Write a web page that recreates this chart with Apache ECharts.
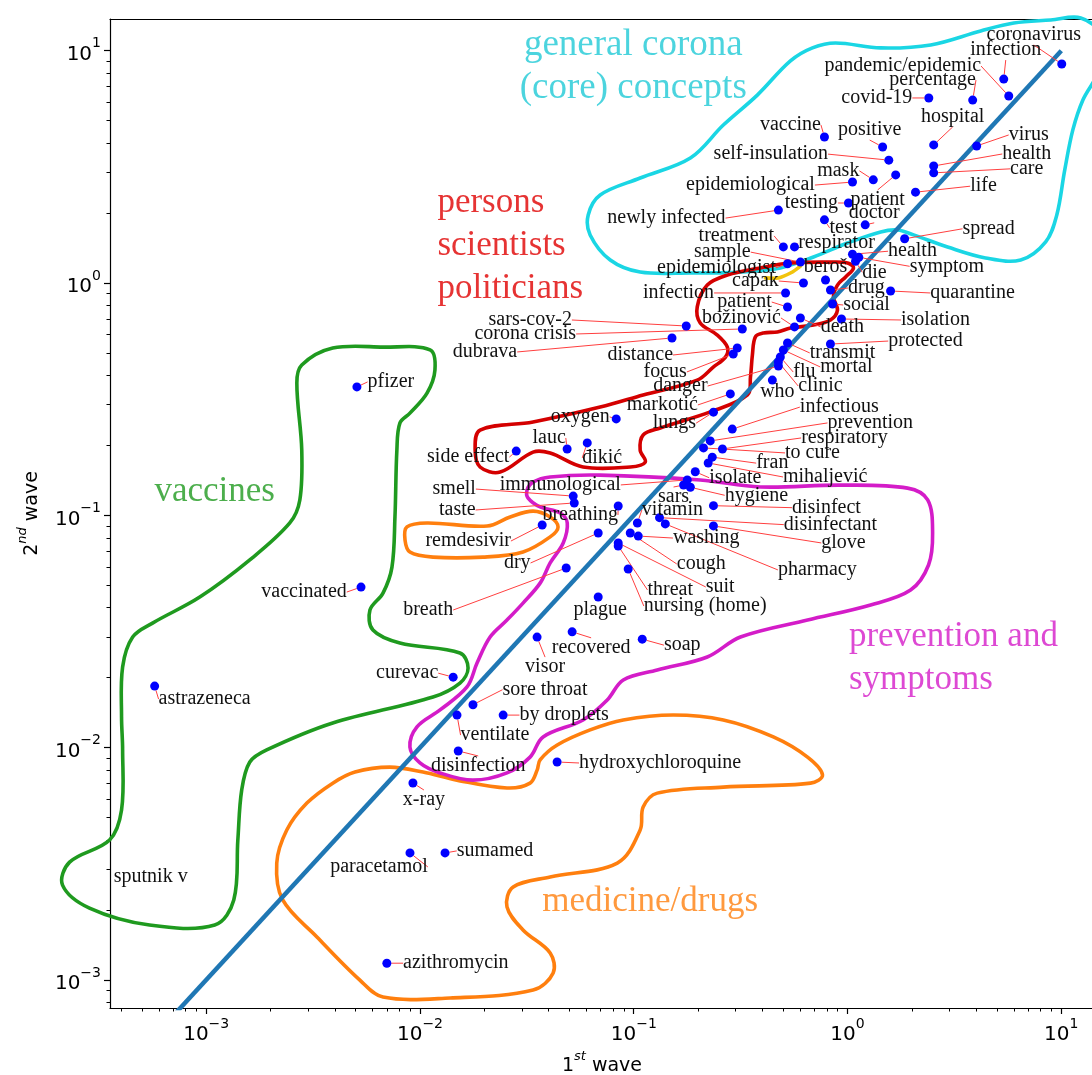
<!DOCTYPE html>
<html>
<head>
<meta charset="utf-8">
<script src="https://cdn.jsdelivr.net/npm/echarts@6/dist/echarts.min.js"></script>
<style>
  html, body { margin: 0; padding: 0; background: #fff; }
  #chart { width: 1092px; height: 1075px; }
</style>
</head>
<body>
<div id="chart"></div>
<script>
// Term frequencies (share of mentions, %) in the 1st and 2nd wave of coverage.
const terms = [
  'coronavirus', 'infection', 'pandemic/epidemic', 'percentage', 'covid-19', 'hospital', 'virus',
  'health', 'care', 'life', 'patient', 'positive', 'self-insulation', 'vaccine', 'mask',
  'epidemiological', 'testing', 'newly infected', 'test', 'doctor', 'spread', 'treatment',
  'respirator', 'sample', 'epidemiologist', 'health', 'symptom', 'die', 'beroš', 'capak',
  'drug', 'quarantine', 'infection', 'social', 'patient', 'isolation', 'božinović', 'death',
  'protected', 'transmit', 'mortal', 'flu', 'clinic', 'who', 'sars-cov-2', 'corona crisis',
  'dubrava', 'distance', 'focus', 'danger', 'markotić', 'lungs', 'oxygen', 'lauc', 'đikić',
  'side effect', 'infectious', 'prevention', 'respiratory', 'to cure', 'fran', 'mihaljević',
  'isolate', 'immunological', 'hygiene', 'sars', 'disinfect', 'disinfectant', 'glove',
  'vitamin', 'pharmacy', 'washing', 'cough', 'suit', 'threat', 'nursing (home)', 'dry',
  'plague', 'breath', 'breathing', 'remdesivir', 'smell', 'taste', 'soap', 'recovered',
  'visor', 'curevac', 'sore throat', 'by droplets', 'ventilate', 'disinfection',
  'hydroxychloroquine', 'x-ray', 'paracetamol', 'sumamed', 'azithromycin', 'pfizer',
  'vaccinated', 'astrazeneca', 'sputnik v'
];
const firstWave = [
  10.05, 5.38, 5.68, 3.85, 2.40, 2.53, 4.02,
  2.53, 2.53, 2.08, 1.68, 1.46, 1.56, 0.78, 1.32,
  1.055, 1.01, 0.475, 0.78, 1.21, 1.85, 0.501,
  0.565, 0.602, 0.524, 1.055, 1.13, 1.09, 0.789, 0.622,
  0.832, 1.59, 0.513, 0.851, 0.524, 0.937, 0.565, 0.602,
  0.832, 0.524, 0.501, 0.485, 0.475, 0.445, 0.176, 0.322,
  0.151, 0.305, 0.292, 0.475, 0.283, 0.236, 0.0828, 0.0488, 0.0606,
  0.0282, 0.289, 0.228, 0.260, 0.212, 0.233, 0.223,
  0.194, 0.178, 0.184, 0.171, 0.236, 0.132, 0.236,
  0.104, 0.1405, 0.105, 0.0963, 0.0846, 0.0846, 0.0942, 0.0682,
  0.0682, 0.0483, 0.0846, 0.0373, 0.0521, 0.0527, 0.1096, 0.0515,
  0.0353, 0.0143, 0.0177, 0.0245, 0.0149, 0.0151,
  0.0438, 0.00927, 0.00898, 0.0131, 0.0070, 0.00507,
  0.0053, 0.000574, 0.00055
];
const secondWave = [
  8.77, 7.55, 6.38, 6.13, 6.26, 3.93, 3.89,
  3.19, 2.98, 2.46, 2.92, 3.85, 3.38, 4.25, 2.78,
  2.72, 2.21, 2.06, 1.87, 1.78, 1.55, 1.43,
  1.43, 1.23, 1.21, 1.33, 1.29, 1.24, 1.03, 1.00,
  0.933, 0.924, 0.906, 0.812, 0.788, 0.700, 0.647, 0.707,
  0.546, 0.552, 0.515, 0.480, 0.457, 0.382, 0.653, 0.634,
  0.580, 0.525, 0.495, 0.439, 0.333, 0.278, 0.260, 0.193, 0.205,
  0.189, 0.235, 0.209, 0.193, 0.195, 0.178, 0.168,
  0.154, 0.142, 0.132, 0.135, 0.110, 0.0977, 0.0900,
  0.0926, 0.0918, 0.0814, 0.0839, 0.0760, 0.0738, 0.0587, 0.0839,
  0.0445, 0.0593, 0.1097, 0.0908, 0.121, 0.113, 0.0293, 0.0315,
  0.0299, 0.0201, 0.0153, 0.0138, 0.0138, 0.00967,
  0.00867, 0.00704, 0.00352, 0.00352, 0.00118, 0.357,
  0.0491, 0.0184, 0.00277
];
// Terms whose point is not drawn (label only).
const labelOnly = ['sputnik v'];

// Where each word label sits relative to its point (screen px).
const labelShift = [
  [-28, -29], [2, -29], [-106, -30], [-40, -20], [-52, 0], [19, -28], [52, -11],
  [93, -12], [93, -4], [68, -6], [-18, 25], [-13, -17], [-118, -6], [-34, -12], [-35, -9],
  [-102, 3], [-37, 0], [-112, 8], [19, 8], [9, -12], [84, -10], [-47, -11],
  [42, -4], [-78, -10], [-71, 4], [60, -3], [88, 9], [19, 11], [0, -13], [-48, -2],
  [36, -2], [82, 2], [-107, 0], [34, 1], [-43, -5], [94, 1], [-53, -9], [42, 9],
  [95, -3], [55, 10], [63, 17], [24, 15], [42, 24], [5, 12], [-156, -6], [-217, 5],
  [-187, 14], [-97, 7], [-68, 18], [-98, 20], [-68, 11], [-39, 11], [-36, -2], [-18, -11], [15, 15],
  [-48, 6], [107, -22], [160, -18], [122, -11], [109, 5], [60, 6], [117, 14],
  [40, 6], [-127, 5], [66, 8], [-10, 12], [113, 2], [171, 7], [130, 17],
  [35, -13], [152, 46], [68, 2], [71, 31], [102, 44], [52, 44], [77, 37], [-81, 30],
  [2, 13], [-138, 42], [-38, 9], [-74, 16], [-119, -7], [-117, 7], [40, 6], [19, 16],
  [8, 30], [-46, -4], [72, -15], [61, 0], [38, 20], [20, 15],
  [103, 1], [11, 17], [-31, 14], [50, -2], [69, 0], [34, -5],
  [-57, 5], [50, 13], [0, 0]
];

// Hand-drawn group outlines, as [log10(1st wave), log10(2nd wave)] pairs.
const outlineCore = [
  [-1.213, 0.293], [-1.157, 0.379], [-0.970, 0.452], [-0.735, 0.538], [-0.581, 0.680],
  [-0.422, 0.809], [-0.267, 0.956], [-0.164, 1.012], [-0.056, 1.033], [0.155, 1.012],
  [0.389, 1.025], [0.623, 1.085], [0.778, 1.119], [0.951, 1.132], [1.091, 1.141],
  [1.185, 1.068], [1.176, 0.917], [1.101, 0.788], [1.054, 0.659], [1.016, 0.486],
  [0.979, 0.293], [0.927, 0.177], [0.810, 0.099], [0.646, 0.108], [0.468, 0.155],
  [0.309, 0.207], [0.234, 0.228], [0.155, 0.220], [0.000, 0.172], [-0.159, 0.112],
  [-0.314, 0.065], [-0.501, 0.047], [-0.735, 0.043], [-0.970, 0.047], [-1.110, 0.099],
  [-1.204, 0.207]
];
const outlinePersons = [
  [-1.719, -0.633], [-1.471, -0.598], [-1.157, -0.534], [-0.956, -0.482], [-0.703, -0.418],
  [-0.628, -0.362], [-0.571, -0.319], [-0.562, -0.276], [-0.609, -0.224], [-0.689, -0.172],
  [-0.703, -0.103], [-0.656, -0.009], [-0.562, 0.034], [-0.408, 0.065], [-0.267, 0.086],
  [-0.080, 0.090], [0.000, 0.086], [0.028, 0.065], [-0.009, 0.026], [-0.047, -0.009],
  [-0.066, -0.060], [-0.047, -0.116], [-0.080, -0.159], [-0.159, -0.181], [-0.267, -0.194],
  [-0.328, -0.211], [-0.393, -0.215], [-0.431, -0.232], [-0.445, -0.310], [-0.454, -0.405],
  [-0.468, -0.482], [-0.642, -0.555], [-0.876, -0.624], [-0.956, -0.654], [-0.970, -0.719],
  [-0.946, -0.771], [-1.016, -0.792], [-1.237, -0.792], [-1.391, -0.732], [-1.471, -0.728],
  [-1.625, -0.814], [-1.719, -0.792], [-1.742, -0.719]
];
const arcLeaders = [
  [-0.384, 0.022], [-0.323, 0.022], [-0.267, 0.043], [-0.220, 0.073]
];
const outlineVaccines = [
  [-2.553, -0.353], [-2.408, -0.280], [-2.173, -0.276], [-1.953, -0.288], [-1.930, -0.375],
  [-1.967, -0.474], [-2.047, -0.560], [-2.094, -0.603], [-2.108, -0.719], [-2.117, -1.007],
  [-2.131, -1.223], [-2.173, -1.335], [-2.234, -1.408], [-2.220, -1.494], [-2.094, -1.550],
  [-1.813, -1.593], [-1.775, -1.657], [-1.813, -1.722], [-1.939, -1.782], [-2.408, -1.894],
  [-2.717, -2.010], [-2.796, -2.062], [-2.834, -2.183], [-2.852, -2.398], [-2.871, -2.656],
  [-2.960, -2.764], [-3.265, -2.764], [-3.546, -2.691], [-3.672, -2.592], [-3.639, -2.493],
  [-3.452, -2.398], [-3.396, -2.269], [-3.391, -2.010], [-3.396, -1.868], [-3.391, -1.653],
  [-3.344, -1.524], [-3.251, -1.464], [-3.030, -1.352], [-2.796, -1.192], [-2.609, -1.033],
  [-2.562, -0.934], [-2.553, -0.719], [-2.576, -0.430]
];
const outlineRemdesivir = [
  [-2.061, -1.050], [-1.967, -1.033], [-1.686, -1.046], [-1.578, -1.007], [-1.471, -0.982],
  [-1.391, -1.007], [-1.354, -1.050], [-1.391, -1.093], [-1.518, -1.158], [-1.705, -1.180],
  [-1.939, -1.180], [-2.047, -1.158], [-2.070, -1.106]
];
const outlineMedicine = [
  [-2.141, -2.084], [-1.986, -2.105], [-1.827, -2.140], [-1.593, -2.174], [-1.485, -2.153],
  [-1.452, -2.097], [-1.438, -2.053], [-1.358, -1.989], [-1.204, -1.924], [-1.049, -1.881],
  [-0.815, -1.860], [-0.581, -1.881], [-0.347, -1.954], [-0.187, -2.041], [-0.117, -2.118],
  [-0.173, -2.153], [-0.581, -2.170], [-0.890, -2.196], [-0.956, -2.256], [-0.970, -2.355],
  [-1.077, -2.497], [-1.391, -2.557], [-1.564, -2.600], [-1.593, -2.686], [-1.518, -2.785],
  [-1.391, -2.884], [-1.377, -2.970], [-1.471, -3.044], [-1.859, -3.078], [-2.173, -3.074],
  [-2.281, -3.001], [-2.482, -2.815], [-2.642, -2.656], [-2.670, -2.497], [-2.623, -2.355],
  [-2.529, -2.239], [-2.408, -2.153], [-2.304, -2.105]
];
const outlinePrevention = [
  [-1.499, -0.891], [-1.471, -0.857], [-1.391, -0.835], [-1.157, -0.827], [-0.689, -0.848],
  [-0.408, -0.878], [-0.033, -0.870], [0.281, -0.883], [0.375, -0.934], [0.398, -1.076],
  [0.379, -1.214], [0.295, -1.322], [0.108, -1.386], [-0.187, -1.451], [-0.501, -1.524],
  [-0.656, -1.610], [-0.890, -1.666], [-1.049, -1.709], [-1.124, -1.795], [-1.237, -1.881],
  [-1.424, -1.954], [-1.485, -2.041], [-1.593, -2.109], [-1.752, -2.140], [-1.906, -2.109],
  [-2.000, -2.066], [-2.047, -1.998], [-2.014, -1.911], [-1.906, -1.838], [-1.780, -1.739],
  [-1.733, -1.636], [-1.672, -1.524], [-1.593, -1.451], [-1.518, -1.378], [-1.438, -1.292],
  [-1.391, -1.205], [-1.330, -1.119], [-1.311, -1.033], [-1.344, -0.990], [-1.438, -0.964],
  [-1.494, -0.926]
];

// Group names written next to their outlines: [text, 1st wave, 2nd wave, colour, anchor, size].
const groupTitles = [
  ['general corona\n(core) concepts', 0.0995, 8.5, '#1fc9d6', 'center', 37],
  ['persons\nscientists\npoliticians', 0.0120, 1.45, '#e00000', 'left', 35],
  ['vaccines', 0.001096, 0.126, '#1f9a1f', 'center', 35],
  ['prevention and\nsymptoms', 1.01, 0.0243, '#d41cc8', 'left', 35],
  ['medicine/drugs', 0.1194, 0.00216, '#ff7f0e', 'center', 35]
];

const majorTicks = [1e-3, 1e-2, 1e-1, 1, 10];
const minorTicks = [];
[1e-4, 1e-3, 1e-2, 1e-1, 1, 10].forEach(d => {
  for (let k = 2; k <= 9; k++) minorTicks.push(+(d * k).toPrecision(3));
});

const X_MIN = Math.pow(10, -3.45), X_MAX = Math.pow(10, 1.153);
const Y_MIN = Math.pow(10, -3.121), Y_MAX = Math.pow(10, 1.1365);

const serif = 'Liberation Serif';
const sans = 'DejaVu Sans';

function powLabel(v) {
  const e = Math.round(Math.log10(v));
  return '{b|10}{e|' + (e < 0 ? '\u2212' + (-e) : String(e)) + '}';
}
const powRich = {
  b: { fontFamily: sans, fontSize: 20, color: '#000', lineHeight: 28, verticalAlign: 'bottom' },
  e: { fontFamily: sans, fontSize: 14, color: '#000', lineHeight: 28, verticalAlign: 'top' }
};
const nameRich = {
  b: { fontFamily: sans, fontSize: 19, color: '#000', lineHeight: 26, verticalAlign: 'bottom' },
  e: { fontFamily: sans, fontSize: 13, color: '#000', fontStyle: 'italic', lineHeight: 26, verticalAlign: 'top' }
};

const toValues = pts => pts.map(([a, b]) => [Math.pow(10, a), Math.pow(10, b)]);

// Outlines are free-hand annotations, so they may run past the axes.
function outline(pts, color, isClosed) {
  const vals = toValues(pts);
  const closedShape = isClosed !== false;
  return {
    type: 'custom', coordinateSystem: 'cartesian2d', xAxisIndex: 0, yAxisIndex: 0,
    clip: false, silent: true, z: 2,
    data: [[1, 1]],
    renderItem: (params, api) => ({
      type: closedShape ? 'polygon' : 'polyline',
      shape: { points: vals.map(v => api.coord(v)), smooth: 0.35 },
      style: { stroke: color, lineWidth: 3.6, fill: 'rgba(0,0,0,0)', lineJoin: 'round', lineCap: 'round' }
    })
  };
}

const points = terms.map((t, i) => {
  const item = { name: t, value: [firstWave[i], secondWave[i]] };
  if (labelOnly.indexOf(t) >= 0) {
    item.symbolSize = 1;
    item.itemStyle = { color: 'rgba(0,0,0,0)' };
    item.labelLine = { show: false };
  }
  return item;
});

const chart = echarts.init(document.getElementById('chart'), null, { renderer: 'canvas' });

const option = {
  animation: false,
  backgroundColor: '#fff',
  grid: { left: 110, top: 19, right: -2, bottom: 67, containLabel: false, outerBoundsMode: 'none' },
  xAxis: [
    {
      type: 'log', logBase: 10, min: X_MIN, max: X_MAX, position: 'bottom',
      axisLine: { show: true, onZero: false, lineStyle: { color: '#000', width: 1.2 } },
      axisTick: { show: true, customValues: majorTicks, length: 6, lineStyle: { color: '#000', width: 1.2 } },
      axisLabel: { show: true, customValues: majorTicks, formatter: powLabel, rich: powRich, margin: 9 },
      splitLine: { show: false }, minorTick: { show: false },
      name: '{b|1}{e|st}{b| wave}', nameLocation: 'middle', nameGap: 39,
      nameTextStyle: { rich: nameRich }
    },
    {
      type: 'log', logBase: 10, min: X_MIN, max: X_MAX, position: 'bottom',
      axisLine: { show: false, onZero: false },
      axisTick: { show: true, customValues: minorTicks, length: 3.5, lineStyle: { color: '#000', width: 1 } },
      axisLabel: { show: false }, splitLine: { show: false }
    },
    {
      type: 'log', logBase: 10, min: X_MIN, max: X_MAX, position: 'top',
      axisLine: { show: true, onZero: false, lineStyle: { color: '#000', width: 1.2 } },
      axisTick: { show: false }, axisLabel: { show: false }, splitLine: { show: false }
    }
  ],
  yAxis: [
    {
      type: 'log', logBase: 10, min: Y_MIN, max: Y_MAX, position: 'left',
      axisLine: { show: true, onZero: false, lineStyle: { color: '#000', width: 1.2 } },
      axisTick: { show: true, customValues: majorTicks, length: 6, lineStyle: { color: '#000', width: 1.2 } },
      axisLabel: { show: true, customValues: majorTicks, formatter: powLabel, rich: powRich, margin: 9 },
      splitLine: { show: false }, minorTick: { show: false },
      name: '{b|2}{e|nd}{b| wave}', nameLocation: 'middle', nameRotate: 90, nameGap: 68,
      nameTextStyle: { rich: nameRich }
    },
    {
      type: 'log', logBase: 10, min: Y_MIN, max: Y_MAX, position: 'left',
      axisLine: { show: false, onZero: false },
      axisTick: { show: true, customValues: minorTicks, length: 3.5, lineStyle: { color: '#000', width: 1 } },
      axisLabel: { show: false }, splitLine: { show: false }
    }
  ],
  series: [
    outline(outlineCore, '#1ad6e4'),
    outline(outlinePersons, '#d40000'),
    outline(arcLeaders, '#f2c40c', false),
    outline(outlineVaccines, '#1f9a1f'),
    outline(outlineRemdesivir, '#ff7f0e'),
    outline(outlineMedicine, '#ff7f0e'),
    outline(outlinePrevention, '#d41cc8'),
    {
      // equal share in both waves
      type: 'line', xAxisIndex: 0, yAxisIndex: 0,
      data: [[1e-4, 1e-4], [10, 10]],
      symbol: 'none', clip: true, silent: true, z: 3,
      lineStyle: { color: '#1f77b4', width: 4.5 }
    },
    {
      type: 'scatter', xAxisIndex: 0, yAxisIndex: 0,
      data: points, symbol: 'circle', symbolSize: 9, z: 5, silent: true,
      itemStyle: { color: '#0000ff', opacity: 1 },
      label: {
        show: true, position: 'inside', formatter: '{b}',
        fontFamily: serif, fontSize: 20, color: '#111'
      },
      labelLine: { show: true, lineStyle: { color: '#ff4040', width: 1 } },
      labelLayout: p => ({ dx: labelShift[p.dataIndex][0], dy: labelShift[p.dataIndex][1], hideOverlap: false }),
      emphasis: { disabled: true }
    },
    {
      type: 'scatter', xAxisIndex: 0, yAxisIndex: 0, silent: true, z: 6,
      symbolSize: 1, itemStyle: { color: 'rgba(0,0,0,0)' },
      data: groupTitles.map(g => ({
        value: [g[1], g[2]],
        label: {
          show: true, formatter: g[0], color: g[3],
          position: g[4] === 'left' ? 'right' : 'inside',
          distance: 0, align: g[4],
          fontFamily: serif, fontSize: g[5], lineHeight: 43
        }
      }))
    }
  ]
};

chart.setOption(option);
</script>
</body>
</html>
